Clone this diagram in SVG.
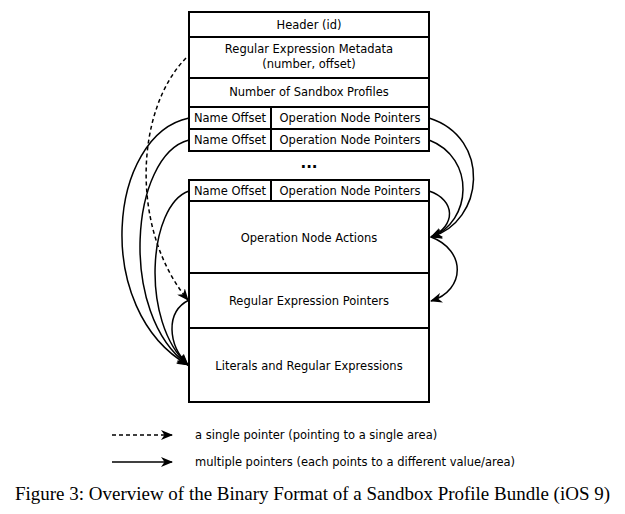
<svg xmlns="http://www.w3.org/2000/svg" width="625" height="514" viewBox="0 0 625 514">
<defs>
<marker id="ah" viewBox="0 0 12 10" refX="11" refY="5" markerWidth="12" markerHeight="10" markerUnits="userSpaceOnUse" orient="auto">
<path d="M0,0 L12,5 L0,10 L3.5,5 z" fill="#000"/>
</marker>
<style>
.box{fill:#fff;stroke:#000;stroke-width:2}
.t{font-family:"DejaVu Sans",sans-serif;font-size:11.5px;text-anchor:middle;fill:#000}
.lt{font-family:"DejaVu Sans",sans-serif;font-size:11.5px;fill:#000}
.c{fill:none;stroke:#000;stroke-width:1.5;marker-end:url(#ah)}
.d{stroke-dasharray:4,3}
</style>
</defs>
<rect width="625" height="514" fill="#fff"/>
<g id="header"><rect class="box" x="189" y="12" width="240" height="25"/><text class="t" x="309" y="29">Header (id)</text></g>
<g id="regex-meta"><rect class="box" x="189" y="37" width="240" height="41"/><text class="t" x="309" y="53">Regular Expression Metadata</text><text class="t" x="309" y="68">(number, offset)</text></g>
<g id="num-profiles"><rect class="box" x="189" y="78" width="240" height="29"/><text class="t" x="309" y="96">Number of Sandbox Profiles</text></g>
<g id="profile1"><rect class="box" x="189" y="107" width="82" height="22"/><rect class="box" x="271" y="107" width="158" height="22"/><text class="t" x="230" y="122">Name Offset</text><text class="t" x="350" y="122">Operation Node Pointers</text></g>
<g id="profile2"><rect class="box" x="189" y="129" width="82" height="22"/><rect class="box" x="271" y="129" width="158" height="22"/><text class="t" x="230" y="144">Name Offset</text><text class="t" x="350" y="144">Operation Node Pointers</text></g>
<g id="dots"><text x="309" y="168" style="font-family:'DejaVu Sans',sans-serif;font-size:15px;font-weight:bold;text-anchor:middle">...</text></g>
<g id="profile3"><rect class="box" x="189" y="180" width="82" height="21"/><rect class="box" x="271" y="180" width="158" height="21"/><text class="t" x="230" y="195">Name Offset</text><text class="t" x="350" y="195">Operation Node Pointers</text></g>
<g id="op-actions"><rect class="box" x="189" y="201" width="240" height="72"/><text class="t" x="309" y="242">Operation Node Actions</text></g>
<g id="regex-pointers"><rect class="box" x="189" y="273" width="240" height="55"/><text class="t" x="309" y="305">Regular Expression Pointers</text></g>
<g id="literals"><rect class="box" x="189" y="328" width="240" height="74"/><text class="t" x="309" y="370">Literals and Regular Expressions</text></g>
<g id="connectors">
<path class="c d" d="M186,58 C135,110 130,230 188,300"/>
<path class="c" d="M189,118 C108,135 92,310 188,365"/>
<path class="c" d="M189,140 C130,155 118,315 188,365"/>
<path class="c" d="M189,191 C148,205 140,322 188,365"/>
<path class="c" d="M189,300 C165,312 168,345 188,365"/>
<path class="c" d="M429,118 C492,138 484,222 431,237"/>
<path class="c" d="M429,140 C476,158 472,222 431,237"/>
<path class="c" d="M429,191 C456,200 456,226 431,237"/>
<path class="c" d="M431,237 C466,250 466,290 431,301"/>
</g>
<g id="legend">
<path class="c d" d="M112,435 L172,435"/>
<text class="lt" x="195" y="439">a single pointer (pointing to a single area)</text>
<path class="c" d="M112,462 L172,462"/>
<text class="lt" x="195" y="466">multiple pointers (each points to a different value/area)</text>
</g>
<text x="15" y="500" textLength="595" lengthAdjust="spacingAndGlyphs" style="font-family:'Liberation Serif',serif;font-size:18px">Figure 3: Overview of the Binary Format of a Sandbox Profile Bundle (iOS 9)</text>
</svg>
